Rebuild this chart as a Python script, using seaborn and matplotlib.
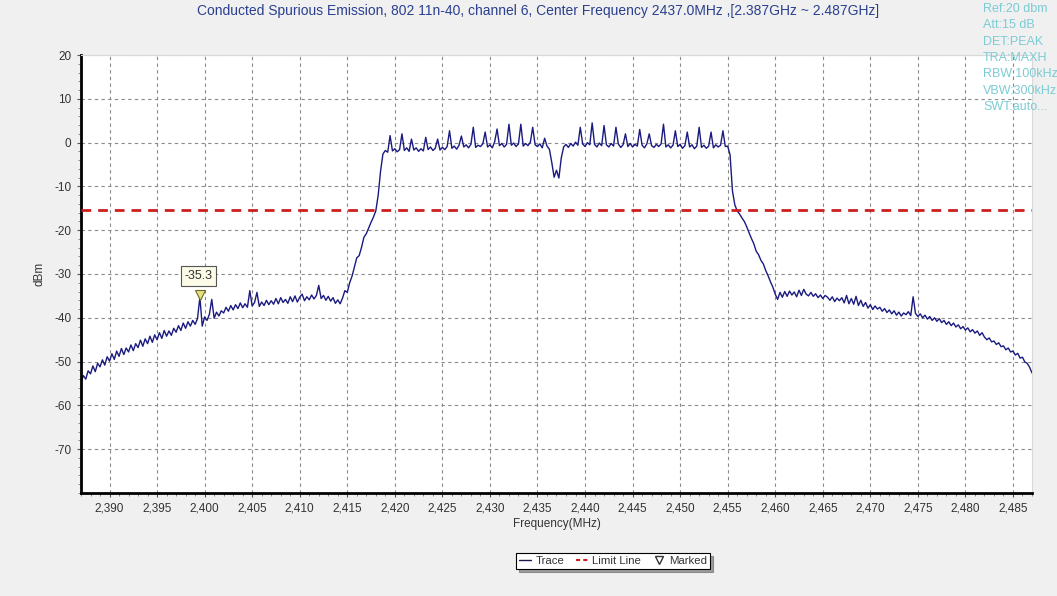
import numpy as np
import pandas as pd
import matplotlib
matplotlib.use("Agg")
import matplotlib.pyplot as plt
from matplotlib.ticker import FuncFormatter, MultipleLocator
from matplotlib.lines import Line2D
import seaborn as sns

# ---------------- data ----------------
title = "Conducted Spurious Emission, 802 11n-40, channel 6, Center Frequency 2437.0MHz ,[2.387GHz ~ 2.487GHz]"
info_lines = ["Ref:20 dbm", "Att:15 dB", "DET:PEAK", "TRA:MAXH", "RBW:100kHz", "VBW:300kHz", "SWT:auto..."]

f_start, f_stop = 2387.0, 2487.0          # sweep span (MHz)
level = [
    # 2387.00 - 2391.75
    -54.7, -53.2, -54.0, -52.1, -52.8, -51.0, -52.3, -50.4, -51.2, -49.6,
    -50.8, -48.9, -49.9, -48.2, -49.5, -47.6, -48.8, -47.0, -48.4, -46.9,
    # 2392.00 - 2396.75
    -47.8, -46.2, -47.5, -45.9, -46.8, -45.1, -46.5, -44.8, -45.9, -44.2,
    -45.6, -43.9, -45.0, -43.4, -44.7, -42.9, -44.2, -43.0, -44.0, -42.4,
    # 2397.00 - 2401.75
    -43.3, -41.8, -42.9, -41.2, -42.4, -40.9, -41.9, -40.6, -41.5, -40.2,
    -35.3, -41.9, -39.8, -40.6, -39.2, -35.8, -40.1, -38.7, -39.6, -38.4,
    # 2402.00 - 2406.75
    -38.9, -37.6, -38.5, -37.2, -38.2, -37.0, -37.9, -36.6, -37.7, -36.8,
    -37.6, -33.8, -37.3, -36.5, -34.2, -37.4, -36.4, -37.2, -36.0, -37.0,
    # 2407.00 - 2411.75
    -36.1, -36.9, -35.6, -36.8, -35.4, -36.5, -35.8, -36.7, -35.2, -36.3,
    -35.0, -36.4, -35.3, -34.6, -36.1, -35.2, -35.9, -34.8, -35.7, -34.9,
    # 2412.00 - 2416.75
    -32.6, -35.6, -34.9, -36.0, -35.1, -36.2, -35.4, -36.7, -35.9, -36.8,
    -35.5, -33.8, -34.2, -32.0, -30.5, -28.4, -26.3, -25.8, -23.9, -21.6,
    # 2417.00 - 2421.75
    -20.8, -19.5, -18.2, -17.0, -15.6, -12.0, -6.5, -2.6, -1.8, -2.2,
    1.6, -1.9, -1.4, -2.1, -1.6, 2.0, -1.8, -1.2, -2.0, 0.8,
    # 2422.00 - 2426.75
    -1.7, -1.2, -2.0, -1.4, -1.9, 1.2, -1.6, -1.0, -1.8, -1.3,
    0.8, -1.7, -1.1, -1.6, -0.9, 2.7, -1.3, -0.8, -1.5, -0.6,
    # 2427.00 - 2431.75
    1.5, -1.0, -0.5, -1.2, -0.4, 3.5, -1.1, -0.6, -0.9, -0.3,
    2.4, -1.0, -0.5, -1.2, 0.2, 3.1, -0.7, -0.2, -1.0, -0.4,
    # 2432.00 - 2436.75
    4.2, -0.6, -0.1, -0.9, -0.3, 4.2, -0.8, -0.2, -0.7, 0.1,
    3.5, -0.5, -0.9, -0.3, -1.2, 1.0, -0.8, -1.5, -4.5, -7.9,
    # 2437.00 - 2441.75
    -6.3, -8.1, -3.5, -1.0, -0.4, -1.1, -0.2, -0.8, 0.1, -0.6,
    3.5, -0.3, -0.9, 0.0, -0.5, 4.5, -0.4, -1.0, -0.1, -0.7,
    # 2442.00 - 2446.75
    3.9, -0.5, -1.0, -0.2, -0.8, 3.5, -0.3, -1.1, -0.5, 2.0,
    -0.9, -0.2, -1.0, -0.4, -0.8, 3.0, -0.6, -1.2, -0.3, 2.0,
    # 2447.00 - 2451.75
    -0.7, -1.1, -0.4, -0.9, -0.3, 4.2, -1.0, -0.5, -1.2, -0.6,
    2.7, -0.9, -0.4, -1.3, -0.7, 2.4, -1.0, -0.5, -1.4, -0.8,
    # 2452.00 - 2456.75
    3.5, -1.1, -0.6, -1.3, -0.8, 2.4, -1.2, -0.5, -1.0, -0.6,
    2.7, -0.9, -0.8, -2.8, -11.0, -14.2, -15.6, -16.3, -17.2, -18.0,
    # 2457.00 - 2461.75
    -19.2, -20.6, -21.9, -23.1, -24.8, -25.6, -26.9, -27.7, -29.2, -30.4,
    -31.8, -33.0, -34.6, -35.8, -34.2, -35.3, -34.0, -35.1, -33.9, -34.8,
    # 2462.00 - 2466.75
    -34.1, -35.2, -33.7, -34.9, -33.5, -34.6, -35.0, -34.2, -35.1, -34.5,
    -35.4, -34.8, -35.6, -34.9, -35.3, -36.0, -35.2, -36.3, -35.5, -36.1,
    # 2467.00 - 2471.75
    -35.4, -36.6, -34.9, -36.8, -35.6, -36.9, -35.1, -37.2, -36.0, -37.4,
    -36.5, -37.8, -37.0, -38.1, -37.3, -38.0, -37.6, -38.5, -37.9, -38.8,
    # 2472.00 - 2476.75
    -38.2, -39.1, -38.4, -39.4, -38.7, -39.6, -38.9, -39.3, -38.6, -39.5,
    -35.2, -39.0, -39.7, -39.1, -40.0, -39.4, -40.3, -39.7, -40.6, -40.0,
    # 2477.00 - 2481.75
    -40.8, -40.2, -41.1, -40.6, -41.5, -40.9, -41.8, -41.2, -42.1, -41.6,
    -42.5, -42.0, -42.8, -42.3, -43.2, -42.7, -43.5, -43.0, -44.0, -43.4,
    # 2482.00 - 2486.75
    -44.4, -45.0, -44.6, -45.5, -45.3, -46.1, -45.7, -46.6, -46.4, -47.3,
    -46.9, -47.8, -47.6, -48.5, -48.1, -49.2, -49.0, -50.1, -50.4, -51.3,
    # 2487.00
    -52.6,
]
limit_level = -15.3
marker_freq = 2399.5
marker_level = -35.3

x_ticks = [2390, 2395, 2400, 2405, 2410, 2415, 2420, 2425, 2430, 2435, 2440,
           2445, 2450, 2455, 2460, 2465, 2470, 2475, 2480, 2485]
y_ticks = [20, 10, 0, -10, -20, -30, -40, -50, -60, -70]

freq = np.linspace(f_start, f_stop, len(level))   # analyzer sweep points
df = pd.DataFrame({"Frequency": freq, "Level": level})

# ---------------- style ----------------
sns.set_style("white")
plt.rcParams["font.family"] = ["Liberation Sans", "DejaVu Sans"]
plt.rcParams["axes.unicode_minus"] = False

fig = plt.figure(figsize=(10.57, 5.96), dpi=100)
fig.patch.set_facecolor("#f0f0f0")
ax = fig.add_axes([81 / 1057, 1 - 493 / 596, (1032 - 81) / 1057, (493 - 55) / 596])
ax.set_facecolor("white")

# trace
sns.lineplot(data=df, x="Frequency", y="Level", ax=ax, color="#1a1a80",
             linewidth=1.0, estimator=None, sort=False)
# limit line
ax.axhline(limit_level, color="#cc1f1f", linestyle=(0, (3.5, 2.5)), linewidth=2.0, zorder=3)
# marker
ax.plot([marker_freq], [marker_level], marker="v", markersize=7,
        markerfacecolor="#e8e07a", markeredgecolor="#6b6b2a", markeredgewidth=0.8,
        linestyle="none", zorder=5,
        transform=ax.transData + matplotlib.transforms.ScaledTranslation(0, 2 / 100, fig.dpi_scale_trans))
ax.annotate(f"{marker_level:.1f}", xy=(marker_freq, marker_level), xytext=(-1, 11),
            textcoords="offset points", ha="center", va="bottom", fontsize=9, color="#333333",
            bbox=dict(boxstyle="square,pad=0.3", facecolor="#fbfbe8", edgecolor="#555555", linewidth=0.8),
            zorder=6)

ax.set_xlim(f_start, f_stop)
ax.set_ylim(-80, 20)
ax.set_xticks(x_ticks)
ax.set_yticks(y_ticks)
ax.xaxis.set_minor_locator(MultipleLocator(1))
ax.yaxis.set_minor_locator(MultipleLocator(2))
ax.xaxis.set_major_formatter(FuncFormatter(lambda v, p: f"{int(round(v)):,}"))
ax.tick_params(axis="both", which="major", direction="out", length=3, width=0.8,
               labelsize=8.5, labelcolor="#333333", color="#555555", pad=4)
ax.tick_params(axis="both", which="minor", direction="out", length=2, width=0.6, color="#777777")
ax.tick_params(axis="x", which="both", bottom=True)
ax.tick_params(axis="y", which="both", left=True)

ax.grid(True, which="major", color="#8a8a8a", linestyle=(0, (3, 3)), linewidth=0.8)
for s in ["left", "bottom"]:
    ax.spines[s].set_color("black")
    ax.spines[s].set_linewidth(2.0)
for s in ["top", "right"]:
    ax.spines[s].set_color("#d8d8d8")
    ax.spines[s].set_linewidth(0.8)

ax.set_xlabel("Frequency(MHz)", fontsize=8.5, color="#333333", labelpad=2)
ax.set_ylabel("dBm", fontsize=8.5, color="#333333", labelpad=6)

fig.text(538 / 1057, 1 - 11 / 596, title, ha="center", va="center", fontsize=10, color="#2a3f8f")

for i, line in enumerate(info_lines):
    fig.text(983 / 1057, 1 - (9 + 16.3 * i) / 596, line, ha="left", va="center",
             fontsize=9, color="#7ccbd5")

handles = [
    Line2D([0], [0], color="#1a1a50", linewidth=1.0),
    Line2D([0], [0], color="#cc1f1f", linewidth=1.5, linestyle=(0, (2, 1.5))),
    Line2D([0], [0], marker="v", markersize=6, markerfacecolor="white",
           markeredgecolor="#333333", linestyle="none"),
]
leg = fig.legend(handles, ["Trace", "Limit Line", "Marked"], loc="center",
                 bbox_to_anchor=(613 / 1057, 1 - 561 / 596), ncol=3, fontsize=8.2,
                 frameon=True, fancybox=False, shadow=True, edgecolor="black",
                 handlelength=1.1, handletextpad=0.35, columnspacing=1.0,
                 borderpad=0.25, labelcolor="#333333")
leg.get_frame().set_linewidth(0.8)

fig.savefig("out.png", dpi=100, facecolor=fig.get_facecolor())
